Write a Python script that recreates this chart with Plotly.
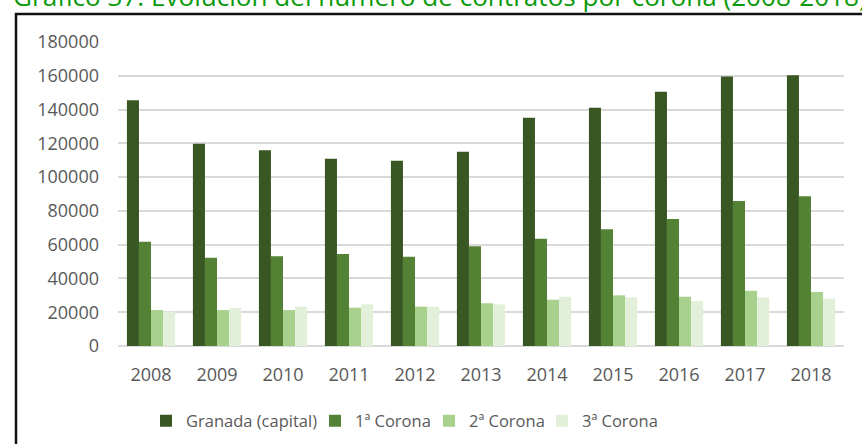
import plotly.graph_objects as go

years = ["2008", "2009", "2010", "2011", "2012", "2013", "2014", "2015", "2016", "2017", "2018"]
granada = [145500, 119800, 115900, 110900, 109700, 115000, 135200, 141100, 150600, 159500, 160300]
corona1 = [61800, 52300, 53100, 54500, 52900, 59000, 63500, 69100, 75200, 85900, 88600]
corona2 = [21300, 21300, 21300, 22700, 23300, 25300, 27400, 30000, 29200, 32700, 32000]
corona3 = [20300, 22500, 23300, 24700, 23300, 24700, 29200, 28800, 26600, 28800, 28000]

series_names = ["Granada (capital)", "1ª Corona", "2ª Corona", "3ª Corona"]
series_colors = ["#385723", "#548235", "#A9D18E", "#E2F0D9"]
series_values = [granada, corona1, corona2, corona3]

title_text = "Gráfico 37. Evolución del número de contratos por corona (2008-2018)"
y_ticks = [0, 20000, 40000, 60000, 80000, 100000, 120000, 140000, 160000, 180000]

W, H = 862, 444
ml, mr, mt, mb = 118, 18, 42, 98
pw, ph = W - ml - mr, H - mt - mb

def px_x(p):
    return (p - ml) / pw

def px_y(p):
    return (H - mb - p) / ph

font_family = "Open Sans, Noto Sans, sans-serif"
grey = "#595959"

legend_ids = ["legend", "legend2", "legend3", "legend4"]
legend_text_x = [182, 351, 465, 578]

fig = go.Figure()
for name, color, vals, lid in zip(series_names, series_colors, series_values, legend_ids):
    fig.add_trace(go.Bar(x=years, y=vals, name=name, legend=lid,
                         marker=dict(color=color, line=dict(width=0))))

legend_layout = {}
for lid, tx in zip(legend_ids, legend_text_x):
    legend_layout[lid] = dict(orientation="h", xref="container", yref="container",
                              x=(tx - 36) / W, xanchor="left",
                              y=1 - 421 / H, yanchor="middle", bgcolor="rgba(0,0,0,0)",
                              font=dict(size=16.5, color=grey, family=font_family))

fig.update_layout(
    width=W, height=H,
    margin=dict(l=ml, r=mr, t=mt, b=mb, pad=0),
    paper_bgcolor="white", plot_bgcolor="white",
    barmode="group", bargap=0.27, bargroupgap=0,
    font=dict(family=font_family, color=grey, size=18),
    showlegend=True,
    xaxis=dict(showgrid=False, showline=False, ticks="", ticklabelstandoff=16,
               tickfont=dict(size=18, color=grey)),
    yaxis=dict(range=[0, 180000], tickvals=y_ticks, ticktext=[str(v) for v in y_ticks],
               showgrid=True, gridcolor="#D9D9D9", gridwidth=1.5,
               zeroline=True, zerolinecolor="#D9D9D9", zerolinewidth=1.5,
               showline=False, ticks="", ticklabelstandoff=18,
               tickfont=dict(size=18, color=grey)),
    **legend_layout,
)

fig.add_annotation(text=title_text, xref="paper", yref="paper",
                   x=px_x(11), y=px_y(-4), xanchor="left", yanchor="middle",
                   showarrow=False, font=dict(size=26.1, color="#0A9A0A", family=font_family))

# frame border (top and left edges visible in the crop)
fig.add_shape(type="line", xref="paper", yref="paper",
              x0=px_x(15), x1=px_x(W + 10), y0=px_y(14), y1=px_y(14),
              line=dict(color="#111111", width=2.5), layer="above")
fig.add_shape(type="line", xref="paper", yref="paper",
              x0=px_x(16), x1=px_x(16), y0=px_y(13), y1=px_y(H + 10),
              line=dict(color="#111111", width=2.5), layer="above")

fig.write_html("out.html", config={"displayModeBar": False},
               post_script="var d=document.documentElement;d.style.overflow='hidden';"
                           "d.style.scrollbarWidth='none';"
                           "document.body.style.margin='0';document.body.style.overflow='hidden';"
                           "document.body.style.scrollbarWidth='none';")
